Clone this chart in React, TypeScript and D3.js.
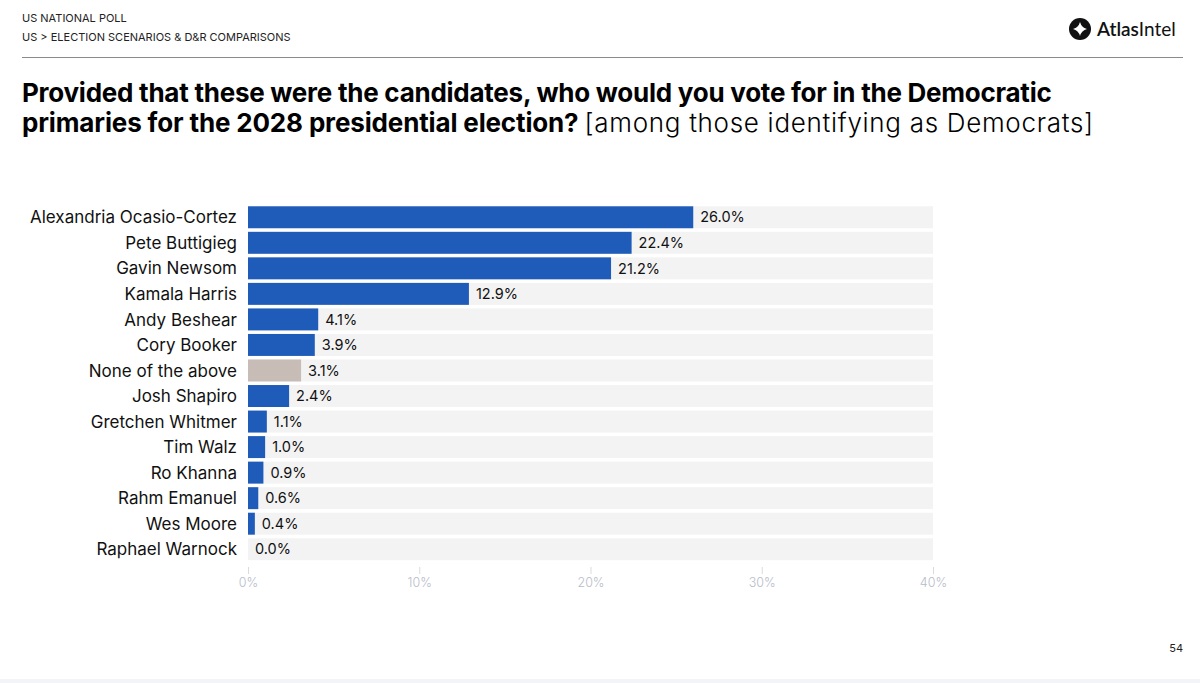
import { useRef, useEffect } from "react";
import * as d3 from "d3";

// candidates in display order and their share (%)
const candidates = [
     "Alexandria Ocasio-Cortez",
     "Pete Buttigieg",
     "Gavin Newsom",
     "Kamala Harris",
     "Andy Beshear",
     "Cory Booker",
     "None of the above",
     "Josh Shapiro",
     "Gretchen Whitmer",
     "Tim Walz",
     "Ro Khanna",
     "Rahm Emanuel",
     "Wes Moore",
     "Raphael Warnock",
];
const shares = [26.0, 22.4, 21.2, 12.9, 4.1, 3.9, 3.1, 2.4, 1.1, 1.0, 0.9, 0.6, 0.4, 0.0];
const xTicks = [0, 10, 20, 30, 40];

const W = 1200;
const H = 683;
const BLUE = "#1f5bb9";
const GREY = "#c8bcb7";
const TRACK = "#f3f3f3";
const FONT = "Inter, 'Noto Sans', sans-serif";

export default function App() {
     const svgRef = useRef<SVGSVGElement | null>(null);

     useEffect(() => {
          const svg = d3.select(svgRef.current);
          svg.selectAll("*").remove();

          const data = candidates.map((name, i) => ({ name, val: shares[i] }));

          const x = d3.scaleLinear().domain([0, 40]).range([248, 933]);
          const y = d3.scaleBand<string>().domain(candidates).range([204.5, 562]).paddingInner(0.14).paddingOuter(0.07);

          // header
          svg.append("text").attr("x", 22).attr("y", 22).attr("font-size", 11).attr("fill", "#222")
               .attr("font-family", FONT).text("US NATIONAL POLL");
          svg.append("text").attr("x", 22).attr("y", 41).attr("font-size", 11).attr("fill", "#222")
               .attr("font-family", FONT).text("US > ELECTION SCENARIOS & D&R COMPARISONS");
          svg.append("line").attr("x1", 22).attr("x2", 1183).attr("y1", 57.5).attr("y2", 57.5)
               .attr("stroke", "#8a8a8a").attr("stroke-width", 1.2);

          // logo
          const logo = svg.append("g").attr("transform", "translate(1080,29)");
          logo.append("circle").attr("r", 11).attr("fill", "#111");
          logo.append("path").attr("d", "M0,-7 Q1.5,-1.5 7,0 Q1.5,1.5 0,7 Q-1.5,1.5 -7,0 Q-1.5,-1.5 0,-7Z").attr("fill", "#fff");
          svg.append("text").attr("x", 1097).attr("y", 36).attr("font-size", 19).attr("fill", "#111")
               .attr("font-family", "Lato, sans-serif").attr("font-weight", 600).text("Atlas")
               .append("tspan").attr("font-weight", 400).text("Intel");

          // title
          svg.append("text").attr("x", 22).attr("y", 102).attr("font-size", 26).attr("font-weight", 700)
               .attr("fill", "#000").attr("font-family", FONT).attr("letter-spacing", -0.25)
               .text("Provided that these were the candidates, who would you vote for in the Democratic");
          const t2 = svg.append("text").attr("x", 22).attr("y", 132).attr("font-size", 26)
               .attr("fill", "#000").attr("font-family", FONT);
          t2.append("tspan").attr("font-weight", 700).attr("letter-spacing", -0.15)
               .text("primaries for the 2028 presidential election? ");
          t2.append("tspan").attr("font-weight", 300).attr("letter-spacing", 0.7)
               .text("[among those identifying as Democrats]");

          // tracks
          svg.append("g").selectAll("rect").data(data).join("rect")
               .attr("x", x(0)).attr("y", d => y(d.name)!)
               .attr("width", x(40) - x(0)).attr("height", y.bandwidth())
               .attr("fill", TRACK);

          // bars
          svg.append("g").selectAll("rect").data(data).join("rect")
               .attr("x", x(0)).attr("y", d => y(d.name)!)
               .attr("width", d => x(d.val) - x(0)).attr("height", y.bandwidth())
               .attr("fill", d => d.name === "None of the above" ? GREY : BLUE);

          // value labels
          svg.append("g").selectAll("text").data(data).join("text")
               .attr("x", d => x(d.val) + 7).attr("y", d => y(d.name)! + y.bandwidth() / 2)
               .attr("dy", "0.36em").attr("font-size", 14.5).attr("fill", "#111")
               .attr("font-family", FONT)
               .text(d => d.val.toFixed(1) + "%");

          // category labels
          svg.append("g").selectAll("text").data(data).join("text")
               .attr("x", 237).attr("y", d => y(d.name)! + y.bandwidth() / 2)
               .attr("dy", "0.36em").attr("text-anchor", "end").attr("font-size", 17)
               .attr("fill", "#111").attr("font-family", FONT)
               .text(d => d.name);

          // x axis
          const xAxis = d3.axisBottom(x).tickValues(xTicks).tickSize(7).tickPadding(4)
               .tickFormat(d => d + "%");
          const ax = svg.append("g").attr("transform", "translate(0,567)").call(xAxis);
          ax.select(".domain").remove();
          ax.selectAll(".tick line").attr("stroke", "#d8dbe2");
          ax.selectAll(".tick text").attr("fill", "#b8bcc8").attr("font-size", 12.5)
               .attr("font-family", FONT).attr("font-weight", 300);

          // footer
          svg.append("text").attr("x", 1183).attr("y", 652).attr("text-anchor", "end")
               .attr("font-size", 11).attr("fill", "#222").attr("font-family", FONT).text("54");
          svg.append("rect").attr("x", 0).attr("y", 679).attr("width", W).attr("height", 4).attr("fill", "#f2f4f7");
     }, [svgRef]);

     return (
          <div style={{ position: "absolute", left: 0, top: 0 }}>
               <svg ref={svgRef} width={W} height={H} style={{ display: "block", background: "#fff" }}></svg>
          </div>
     );
}
